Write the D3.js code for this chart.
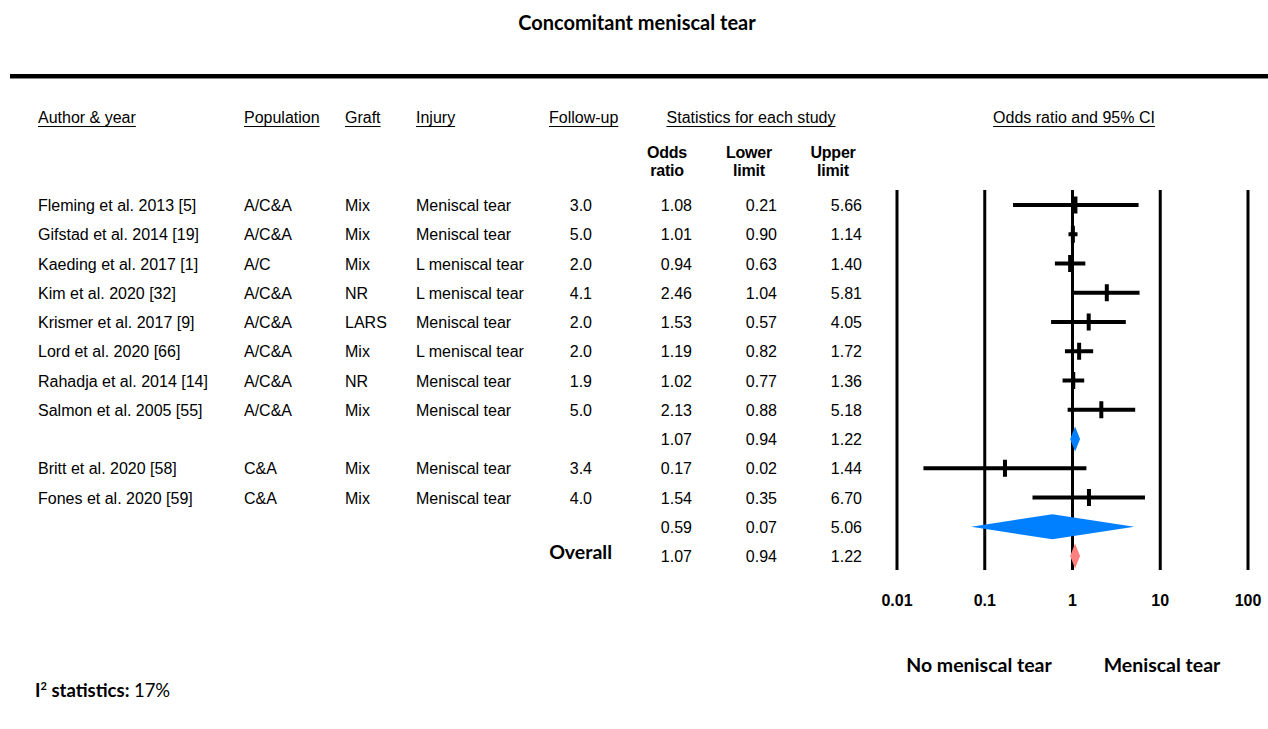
<!DOCTYPE html>
<html>
<head>
<meta charset="utf-8">
<script src="https://cdn.jsdelivr.net/npm/d3@7"></script>
<style>
  body { margin: 0; background: #fff; }
  svg { display: block; }
  .tbl { font-family: "Liberation Sans", Arial, sans-serif; font-size: 16px; fill: #000; }
  .cal { font-family: Lato, "Open Sans", sans-serif; font-weight: bold; fill: #000; }
</style>
</head>
<body>
<div id="vis"></div>
<script>
// study level data
var authors = ['Fleming et al. 2013 [5]', 'Gifstad et al. 2014 [19]', 'Kaeding et al. 2017 [1]',
  'Kim et al. 2020 [32]', 'Krismer et al. 2017 [9]', 'Lord et al. 2020 [66]',
  'Rahadja et al. 2014 [14]', 'Salmon et al. 2005 [55]', 'Britt et al. 2020 [58]', 'Fones et al. 2020 [59]'];
var population = ['A/C&A', 'A/C&A', 'A/C', 'A/C&A', 'A/C&A', 'A/C&A', 'A/C&A', 'A/C&A', 'C&A', 'C&A'];
var graft = ['Mix', 'Mix', 'Mix', 'NR', 'LARS', 'Mix', 'NR', 'Mix', 'Mix', 'Mix'];
var injury = ['Meniscal tear', 'Meniscal tear', 'L meniscal tear', 'L meniscal tear', 'Meniscal tear',
  'L meniscal tear', 'Meniscal tear', 'Meniscal tear', 'Meniscal tear', 'Meniscal tear'];
var followUp = ['3.0', '5.0', '2.0', '4.1', '2.0', '2.0', '1.9', '5.0', '3.4', '4.0'];
var oddsRatio = [1.08, 1.01, 0.94, 2.46, 1.53, 1.19, 1.02, 2.13, 0.17, 1.54];
var lowerLimit = [0.21, 0.90, 0.63, 1.04, 0.57, 0.82, 0.77, 0.88, 0.02, 0.35];
var upperLimit = [5.66, 1.14, 1.40, 5.81, 4.05, 1.72, 1.36, 5.18, 1.44, 6.70];

// summary rows: subgroup A/C&A, subgroup C&A, overall
var summaryOR = [1.07, 0.59, 1.07];
var summaryLower = [0.94, 0.07, 0.94];
var summaryUpper = [1.22, 5.06, 1.22];
var summaryRow = [8, 11, 12];
var summaryColor = ['#0080ff', '#0080ff', '#ff8080'];

var studyRow = [0, 1, 2, 3, 4, 5, 6, 7, 9, 10];
var ticks = [0.01, 0.1, 1, 10, 100];

var width = 1268;
var height = 729;

var svg = d3.select('#vis').append('svg')
  .attr('width', width)
  .attr('height', height);

var y = d3.scaleLinear().domain([0, 12]).range([205, 556]);
var x = d3.scaleLog().domain([0.01, 100]).range([897, 1248]);

function fmt(v) { return v.toFixed(2); }

// title + thick rule
svg.append('text').attr('class', 'cal')
  .attr('x', 637).attr('y', 30)
  .attr('text-anchor', 'middle')
  .style('font-size', '20px')
  .text('Concomitant meniscal tear');

svg.append('rect')
  .attr('x', 10).attr('y', 74)
  .attr('width', width - 10).attr('height', 4)
  .attr('fill', '#000');
svg.append('rect')
  .attr('x', 10).attr('y', 78)
  .attr('width', width - 10).attr('height', 1)
  .attr('fill', '#888');

// underlined column headers
var headers = [
  { t: 'Author & year', x: 38, a: 'start' },
  { t: 'Population', x: 244, a: 'start' },
  { t: 'Graft', x: 345, a: 'start' },
  { t: 'Injury', x: 416, a: 'start' },
  { t: 'Follow-up', x: 549, a: 'start' },
  { t: 'Statistics for each study', x: 751, a: 'middle' },
  { t: 'Odds ratio and 95% CI', x: 1074, a: 'middle' }
];
headers.forEach(function (h) {
  var t = svg.append('text').attr('class', 'tbl')
    .attr('x', h.x).attr('y', 123)
    .attr('text-anchor', h.a)
    .style('font-size', '16px')
    .text(h.t);
  var w = t.node().getComputedTextLength();
  var x0 = h.a === 'middle' ? h.x - w / 2 : h.x;
  svg.append('line')
    .attr('x1', x0).attr('x2', x0 + w)
    .attr('y1', 126.5).attr('y2', 126.5)
    .attr('stroke', '#000').attr('stroke-width', 1.2);
});

// bold sub headers
var subHeads = [['Odds', 'ratio', 667], ['Lower', 'limit', 749], ['Upper', 'limit', 833]];
subHeads.forEach(function (s) {
  [s[0], s[1]].forEach(function (line, i) {
    svg.append('text').attr('class', 'tbl')
      .attr('x', s[2]).attr('y', 158 + i * 18)
      .attr('text-anchor', 'middle')
      .style('font-weight', 'bold')
      .style('letter-spacing', '-0.2px')
      .text(line);
  });
});

// vertical grid lines
svg.append('g').selectAll('line')
  .data(ticks)
  .enter().append('line')
  .attr('x1', function (d) { return x(d); })
  .attr('x2', function (d) { return x(d); })
  .attr('y1', 190).attr('y2', 570)
  .attr('stroke', '#000').attr('stroke-width', 3);

// axis labels
svg.append('g').selectAll('text')
  .data(ticks)
  .enter().append('text').attr('class', 'tbl')
  .attr('x', function (d) { return x(d); })
  .attr('y', 606)
  .attr('text-anchor', 'middle')
  .style('font-weight', 'bold')
  .style('font-size', '16px')
  .text(function (d) { return d3.format('~g')(d); });

// study rows
var rowG = svg.append('g').selectAll('g')
  .data(authors)
  .enter().append('g')
  .attr('transform', function (d, i) { return 'translate(0,' + y(studyRow[i]) + ')'; });

function cell(sel, xPos, anchor, fn) {
  sel.append('text').attr('class', 'tbl')
    .attr('x', xPos).attr('y', 6)
    .attr('text-anchor', anchor)
    .text(fn);
}
cell(rowG, 38, 'start', function (d) { return d; });
cell(rowG, 244, 'start', function (d, i) { return population[i]; });
cell(rowG, 345, 'start', function (d, i) { return graft[i]; });
cell(rowG, 416, 'start', function (d, i) { return injury[i]; });
cell(rowG, 592, 'end', function (d, i) { return followUp[i]; });
cell(rowG, 692, 'end', function (d, i) { return fmt(oddsRatio[i]); });
cell(rowG, 777, 'end', function (d, i) { return fmt(lowerLimit[i]); });
cell(rowG, 862, 'end', function (d, i) { return fmt(upperLimit[i]); });

// CI lines and point ticks
rowG.append('line')
  .attr('x1', function (d, i) { return x(lowerLimit[i]); })
  .attr('x2', function (d, i) { return x(upperLimit[i]); })
  .attr('y1', 0).attr('y2', 0)
  .attr('stroke', '#000').attr('stroke-width', 4);
rowG.append('rect')
  .attr('x', function (d, i) { return x(oddsRatio[i]) - 2; })
  .attr('y', -8.5)
  .attr('width', 4).attr('height', 17)
  .attr('fill', '#000');

// summary rows
var sumG = svg.append('g').selectAll('g')
  .data(summaryOR)
  .enter().append('g')
  .attr('transform', function (d, i) { return 'translate(0,' + y(summaryRow[i]) + ')'; });

cell(sumG, 692, 'end', function (d) { return fmt(d); });
cell(sumG, 777, 'end', function (d, i) { return fmt(summaryLower[i]); });
cell(sumG, 862, 'end', function (d, i) { return fmt(summaryUpper[i]); });

sumG.append('path')
  .attr('d', function (d, i) {
    var h = 12.5;
    return 'M' + x(summaryLower[i]) + ',0L' + x(d) + ',' + (-h) +
      'L' + x(summaryUpper[i]) + ',0L' + x(d) + ',' + h + 'Z';
  })
  .attr('fill', function (d, i) { return summaryColor[i]; });

svg.append('text').attr('class', 'cal')
  .attr('x', 612).attr('y', y(12) + 3)
  .attr('text-anchor', 'end')
  .style('font-size', '19.5px')
  .text('Overall');

// favours labels
svg.append('text').attr('class', 'cal')
  .attr('x', 979).attr('y', 672)
  .attr('text-anchor', 'middle')
  .style('font-size', '19.5px')
  .text('No meniscal tear');
svg.append('text').attr('class', 'cal')
  .attr('x', 1162).attr('y', 672)
  .attr('text-anchor', 'middle')
  .style('font-size', '19.5px')
  .text('Meniscal tear');

// heterogeneity
var het = svg.append('text').attr('class', 'cal')
  .attr('x', 35).attr('y', 697)
  .style('font-size', '18.5px');
het.append('tspan').text('I');
het.append('tspan').attr('dy', -7).style('font-size', '11px').text('2');
het.append('tspan').attr('dy', 7).text(' statistics: ');
het.append('tspan').style('font-weight', 'normal').text('17%');
</script>
</body>
</html>
